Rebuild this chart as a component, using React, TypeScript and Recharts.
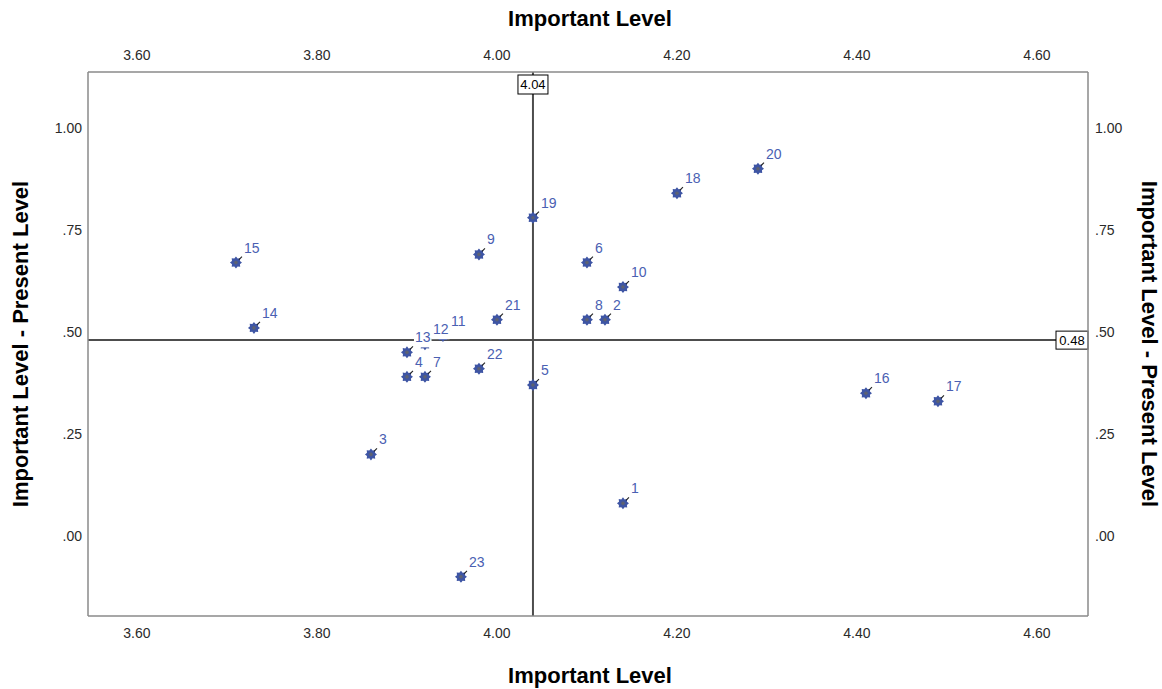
import React from 'react';
import { ScatterChart, Scatter, XAxis, YAxis, ReferenceLine, LabelList } from 'recharts';

const itemIds = [1, 2, 3, 4, 5, 6, 7, 8, 9, 10, 11, 12, 13, 14, 15, 16, 17, 18, 19, 20, 21, 22, 23];
const importantLevel = [4.14, 4.12, 3.86, 3.90, 4.04, 4.10, 3.92, 4.10, 3.98, 4.14, 3.94, 3.92, 3.90, 3.73, 3.71, 4.41, 4.49, 4.20, 4.04, 4.29, 4.00, 3.98, 3.96];
const gapLevel = [0.08, 0.53, 0.20, 0.39, 0.37, 0.67, 0.39, 0.53, 0.69, 0.61, 0.49, 0.47, 0.45, 0.51, 0.67, 0.35, 0.33, 0.84, 0.78, 0.90, 0.53, 0.41, -0.10];
const xTicks = [3.6, 3.8, 4.0, 4.2, 4.4, 4.6];
const yTicks = [0, 0.25, 0.5, 0.75, 1.0];
const meanImportant = 4.04;
const meanGap = 0.48;
const xTitle = 'Important Level';
const yTitle = 'Important Level - Present Level';

const data = itemIds.map((id, i) => ({ id, x: importantLevel[i], y: gapLevel[i] }));

const FONT = '"Liberation Sans", Arial, Helvetica, sans-serif';
const MARK = '#3e55a4';
const LABEL_COLOR = '#4a60b2';

const fmtX = (v: number) => v.toFixed(2);
const fmtY = (v: number) => {
  const s = v.toFixed(2);
  return s.startsWith('0') ? s.slice(1) : s;
};

function StarMarker(props: any) {
  const { cx, cy } = props;
  if (cx == null || cy == null) return null;
  const pts: string[] = [];
  for (let k = 0; k < 16; k++) {
    const r = k % 2 === 0 ? 6.0 : 4.3;
    const a = (Math.PI / 8) * k - Math.PI / 2;
    pts.push(`${(cx + r * Math.cos(a)).toFixed(2)},${(cy + r * Math.sin(a)).toFixed(2)}`);
  }
  return (
    <g>
      <polygon points={pts.join(' ')} fill={MARK} />
      <circle cx={cx} cy={cy} r={1.8} fill="#5d6272" />
    </g>
  );
}

const NoMarker = () => null;

function PointLabel(props: any) {
  const vb = props.viewBox || {};
  const w = vb.width ?? props.width ?? 0;
  const h = vb.height ?? props.height ?? 0;
  const bx = vb.x ?? props.x;
  const by = vb.y ?? props.y;
  if (bx == null || by == null) return null;
  const cx = bx + w / 2;
  const cy = by + h / 2;
  const txt = String(props.value);
  const tw = txt.length * 7.8;
  return (
    <g>
      <rect x={cx + 7} y={cy - 24} width={tw + 2} height={19} fill="#ffffff" />
      <line x1={cx + 3} y1={cy - 3} x2={cx + 6} y2={cy - 6} stroke="#222" strokeWidth={1.1} />
      <text x={cx + 8} y={cy - 10} fill={LABEL_COLOR} fontSize={14} fontFamily={FONT}>
        {txt}
      </text>
    </g>
  );
}

const VRefLabel = (p: any) => {
  const vb = p.viewBox || {};
  const x = vb.x;
  const y = vb.y;
  return (
    <g>
      <rect x={x - 15} y={y + 3} width={30} height={19} fill="#fff" stroke="#000" strokeWidth={1} />
      <text x={x} y={y + 17} textAnchor="middle" fontSize={13} fontFamily={FONT} fill="#000">
        {meanImportant.toFixed(2)}
      </text>
    </g>
  );
};

const HRefLabel = (p: any) => {
  const vb = p.viewBox || {};
  const right = vb.x + vb.width;
  const y = vb.y;
  return (
    <g>
      <rect x={right - 32} y={y - 9} width={32} height={18} fill="#fff" stroke="#000" strokeWidth={1} />
      <text x={right - 16} y={y + 5} textAnchor="middle" fontSize={13} fontFamily={FONT} fill="#000">
        {meanGap.toFixed(2)}
      </text>
    </g>
  );
};

const titleStyle = { fontSize: 22, fontWeight: 700, fontFamily: FONT, fill: '#000' } as const;

const BottomTitle = (p: any) => {
  const vb = p.viewBox || {};
  return (
    <text x={590} y={683} textAnchor="middle" {...titleStyle}>
      {xTitle}
    </text>
  );
};
const TopTitle = (p: any) => {
  return (
    <text x={590} y={26} textAnchor="middle" {...titleStyle}>
      {xTitle}
    </text>
  );
};
const LeftTitle = (p: any) => {
  const vb = p.viewBox || {};
  const cy = vb.y + vb.height / 2;
  return (
    <text x={0} y={0} transform={`translate(28, ${cy}) rotate(-90)`} textAnchor="middle" {...titleStyle}>
      {yTitle}
    </text>
  );
};
const RightTitle = (p: any) => {
  const vb = p.viewBox || {};
  const cy = vb.y + vb.height / 2;
  return (
    <text x={0} y={0} transform={`translate(1142, ${cy}) rotate(90)`} textAnchor="middle" {...titleStyle}>
      {yTitle}
    </text>
  );
};

const tickStyle = { fill: '#2a2a2a', fontSize: 14, fontFamily: FONT };
const axisLineStyle = { stroke: '#8a8a8a', strokeWidth: 1.5 };
const xDomain: [number, number] = [3.5456, 4.6567];
const yDomain: [number, number] = [-0.196, 1.137];

export default function App() {
  return (
    <div style={{ position: 'absolute', left: 0, top: 0, width: 1162, height: 689, background: '#fff' }}>
      <ScatterChart width={1162} height={689} margin={{ top: 0, right: 0, bottom: 0, left: 0 }}>
        <XAxis
          xAxisId="b"
          type="number"
          dataKey="x"
          orientation="bottom"
          domain={xDomain}
          ticks={xTicks}
          allowDataOverflow
          height={73}
          tickLine={false}
          tickSize={6}
          tickMargin={6}
          axisLine={axisLineStyle}
          tick={tickStyle}
          tickFormatter={fmtX}
          interval={0}
          label={{ content: BottomTitle }}
        />
        <XAxis
          xAxisId="t"
          type="number"
          dataKey="x"
          orientation="top"
          domain={xDomain}
          ticks={xTicks}
          allowDataOverflow
          height={72}
          tickLine={false}
          tickSize={6}
          tickMargin={6}
          axisLine={axisLineStyle}
          tick={tickStyle}
          tickFormatter={fmtX}
          interval={0}
          label={{ content: TopTitle }}
        />
        <YAxis
          yAxisId="l"
          type="number"
          dataKey="y"
          orientation="left"
          domain={yDomain}
          ticks={yTicks}
          allowDataOverflow
          width={88}
          tickLine={false}
          tickSize={6}
          tickMargin={0}
          axisLine={axisLineStyle}
          tick={tickStyle}
          tickFormatter={fmtY}
          interval={0}
          label={{ content: LeftTitle }}
        />
        <YAxis
          yAxisId="r"
          type="number"
          dataKey="y"
          orientation="right"
          domain={yDomain}
          ticks={yTicks}
          allowDataOverflow
          width={74}
          tickLine={false}
          tickSize={6}
          tickMargin={1}
          axisLine={axisLineStyle}
          tick={tickStyle}
          tickFormatter={fmtY}
          interval={0}
          label={{ content: RightTitle }}
        />
        <Scatter
          data={data}
          xAxisId="t"
          yAxisId="r"
          shape={NoMarker}
          isAnimationActive={false}
          legendType="none"
        />
        <Scatter
          data={data}
          xAxisId="b"
          yAxisId="l"
          shape={(p: any) => <StarMarker {...p} />}
          isAnimationActive={false}
        >
          <LabelList dataKey="id" content={PointLabel} />
        </Scatter>
        <ReferenceLine
          xAxisId="b"
          yAxisId="l"
          x={meanImportant}
          stroke="#4d4d4d"
          strokeWidth={2}
          label={{ content: VRefLabel }}
        />
        <ReferenceLine
          xAxisId="b"
          yAxisId="l"
          y={meanGap}
          stroke="#4d4d4d"
          strokeWidth={2}
          label={{ content: HRefLabel }}
        />
      </ScatterChart>
    </div>
  );
}
